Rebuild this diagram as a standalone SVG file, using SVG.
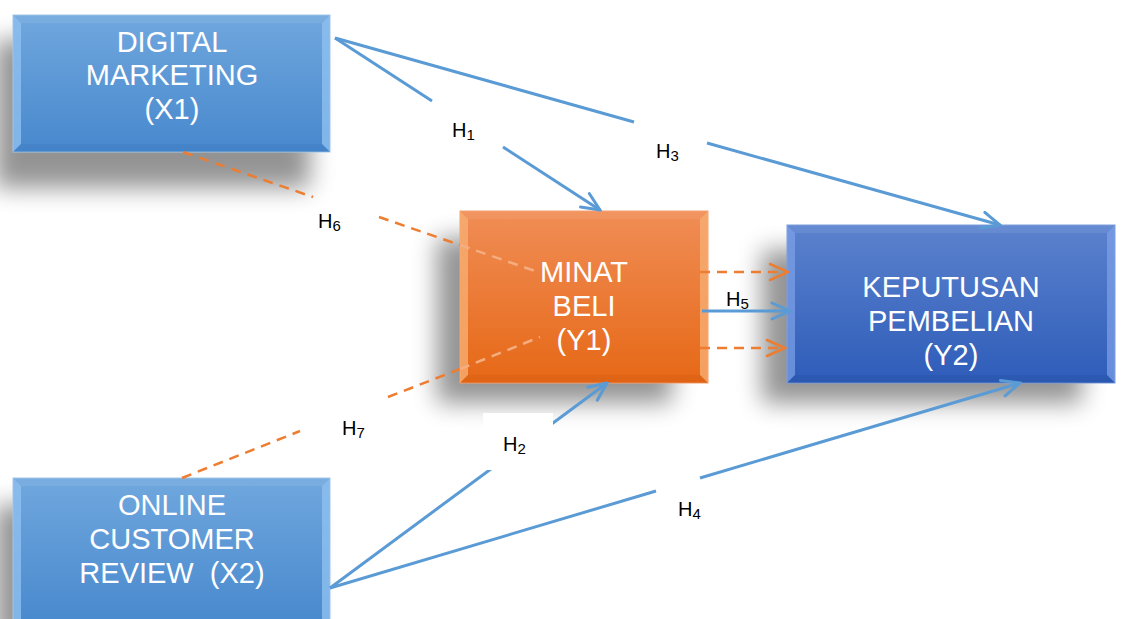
<svg xmlns="http://www.w3.org/2000/svg" width="1123" height="619" viewBox="0 0 1123 619">
<defs>
<style>
.lbl{font-family:"Liberation Sans",Arial,sans-serif;fill:#fff;font-size:29px;text-anchor:middle}
.h{font-family:"Liberation Sans",Arial,sans-serif;fill:#000;font-size:20px}
.blue{stroke:#5b9bd5;stroke-width:3;fill:none}
.or{stroke:#ed7d31;stroke-width:2.5;fill:none;stroke-dasharray:10 7}
.orl{stroke:#f5ad80;stroke-width:2.5;fill:none;stroke-dasharray:10 7}
.shadow{fill:#000;opacity:0.42;filter:url(#blur)}
</style>
<filter id="blur" x="-30%" y="-30%" width="160%" height="160%"><feGaussianBlur stdDeviation="12"/></filter>
<linearGradient id="gb" x1="0" y1="0" x2="0" y2="1"><stop offset="0" stop-color="#70a7de"/><stop offset="1" stop-color="#4788cd"/></linearGradient>
<linearGradient id="go" x1="0" y1="0" x2="0" y2="1"><stop offset="0" stop-color="#f08d56"/><stop offset="1" stop-color="#e66816"/></linearGradient>
<linearGradient id="gd" x1="0" y1="0" x2="0" y2="1"><stop offset="0" stop-color="#5b82cd"/><stop offset="1" stop-color="#2e5cb9"/></linearGradient>
<marker id="ab" viewBox="0 0 22 20" refX="20" refY="10" markerWidth="22" markerHeight="20" markerUnits="userSpaceOnUse" orient="auto"><path d="M2,2 L20,10 L2,18" stroke="#5b9bd5" stroke-width="3" fill="none" stroke-linecap="round"/></marker>
<marker id="ao" viewBox="0 0 22 20" refX="20" refY="10" markerWidth="22" markerHeight="20" markerUnits="userSpaceOnUse" orient="auto"><path d="M2,2 L20,10 L2,18" stroke="#ed7d31" stroke-width="2.5" fill="none" stroke-linecap="round"/></marker>
</defs>
<rect width="1123" height="619" fill="#fff"/>

<g id="shadows">
<rect class="shadow" x="-5" y="40" width="315" height="148"/>
<rect class="shadow" x="-5" y="505" width="315" height="140"/>
<rect class="shadow" x="437" y="238" width="235" height="165"/>
<rect class="shadow" x="762" y="250" width="320" height="153"/>
</g>

<g id="node-x1">
<rect x="13" y="15" width="317" height="137" fill="url(#gb)" stroke="#a6c8ea" stroke-width="1"/>
<polygon points="13,15 21,23 21,144 13,152" fill="#8fc0f0" opacity="0.8"/>
<polygon points="330,15 322,23 322,144 330,152" fill="#8fc0f0" opacity="0.8"/>
<polygon points="13,15 330,15 322,23 21,23" fill="#8ab8e6" opacity="0.4"/>
<polygon points="13,152 330,152 322,144 21,144" fill="#3a78bc" opacity="0.3"/>
<text class="lbl" x="172" y="52">DIGITAL</text>
<text class="lbl" x="172" y="85">MARKETING</text>
<text class="lbl" x="172" y="119">(X1)</text>
</g>

<g id="node-x2">
<rect x="13" y="478" width="317" height="150" fill="url(#gb)" stroke="#a6c8ea" stroke-width="1"/>
<polygon points="13,478 21,486 21,628 13,628" fill="#8fc0f0" opacity="0.8"/>
<polygon points="330,478 322,486 322,628 330,628" fill="#8fc0f0" opacity="0.8"/>
<polygon points="13,478 330,478 322,486 21,486" fill="#8ab8e6" opacity="0.4"/>
<text class="lbl" x="172" y="515">ONLINE</text>
<text class="lbl" x="172" y="549">CUSTOMER</text>
<text class="lbl" x="172" y="583" xml:space="preserve">REVIEW  (X2)</text>
</g>

<g id="node-y1">
<rect x="460" y="211" width="248" height="172" fill="url(#go)" stroke="#f4a070" stroke-width="1"/>
<polygon points="460,211 468,219 468,375 460,383" fill="#f8ae72" opacity="0.8"/>
<polygon points="708,211 700,219 700,375 708,383" fill="#f8ae72" opacity="0.8"/>
<polygon points="460,211 708,211 700,219 468,219" fill="#f4a070" opacity="0.4"/>
<polygon points="460,383 708,383 700,375 468,375" fill="#d45a10" opacity="0.3"/>
</g>

<g id="node-y2">
<rect x="787" y="225" width="328" height="158" fill="url(#gd)" stroke="#7f9fdc" stroke-width="1"/>
<polygon points="787,225 795,233 795,375 787,383" fill="#7fa3ea" opacity="0.7"/>
<polygon points="1115,225 1107,233 1107,375 1115,383" fill="#7fa3ea" opacity="0.7"/>
<polygon points="787,225 1115,225 1107,233 795,233" fill="#7f9fdc" opacity="0.35"/>
<polygon points="787,383 1115,383 1107,375 795,375" fill="#24509f" opacity="0.3"/>
<text class="lbl" x="951" y="297">KEPUTUSAN</text>
<text class="lbl" x="951" y="331">PEMBELIAN</text>
<text class="lbl" x="951" y="365">(Y2)</text>
</g>

<g id="connectors">
<path class="blue" d="M335,38 L432,101"/>
<path class="blue" d="M503,147 L600,210" marker-end="url(#ab)"/>
<path class="blue" d="M335,38 L634,122"/>
<path class="blue" d="M707,143 L1000,225" marker-end="url(#ab)"/>
<path class="blue" d="M330,588 L607,383" marker-end="url(#ab)"/>
<path class="blue" d="M330,588 L656,491"/>
<path class="blue" d="M700,478 L1020,383" marker-end="url(#ab)"/>
<path class="or" d="M183,152 L313,197"/>
<path class="or" d="M379,217 L460,245"/>
<path class="orl" d="M460,245 L535,271"/>
<path class="or" d="M182,478 L300,431"/>
<path class="or" d="M388,397 L460,369"/>
<path class="orl" d="M460,369 L540,337"/>
<path class="or" d="M700,272 L788,272" marker-end="url(#ao)"/>
<path class="or" d="M700,348 L785,348" marker-end="url(#ao)"/>
<path class="blue" d="M702,311 L790,311" stroke-width="2.5" marker-end="url(#ab)"/>
</g>

<g id="node-y1-text">
<text class="lbl" x="584" y="282">MINAT</text>
<text class="lbl" x="584" y="316">BELI</text>
<text class="lbl" x="584" y="350">(Y1)</text>
</g>

<g id="labels">
<rect x="483" y="413" width="70" height="57" fill="#fff"/>
<text class="h" x="452" y="137">H<tspan font-size="15" dy="3">1</tspan></text>
<text class="h" x="656" y="158">H<tspan font-size="15" dy="3">3</tspan></text>
<text class="h" x="318" y="228">H<tspan font-size="15" dy="3">6</tspan></text>
<text class="h" x="342" y="435">H<tspan font-size="15" dy="3">7</tspan></text>
<text class="h" x="503" y="451">H<tspan font-size="15" dy="3">2</tspan></text>
<text class="h" x="678" y="516">H<tspan font-size="15" dy="3">4</tspan></text>
<text class="h" x="726" y="306">H<tspan font-size="15" dy="3">5</tspan></text>
</g>
</svg>
